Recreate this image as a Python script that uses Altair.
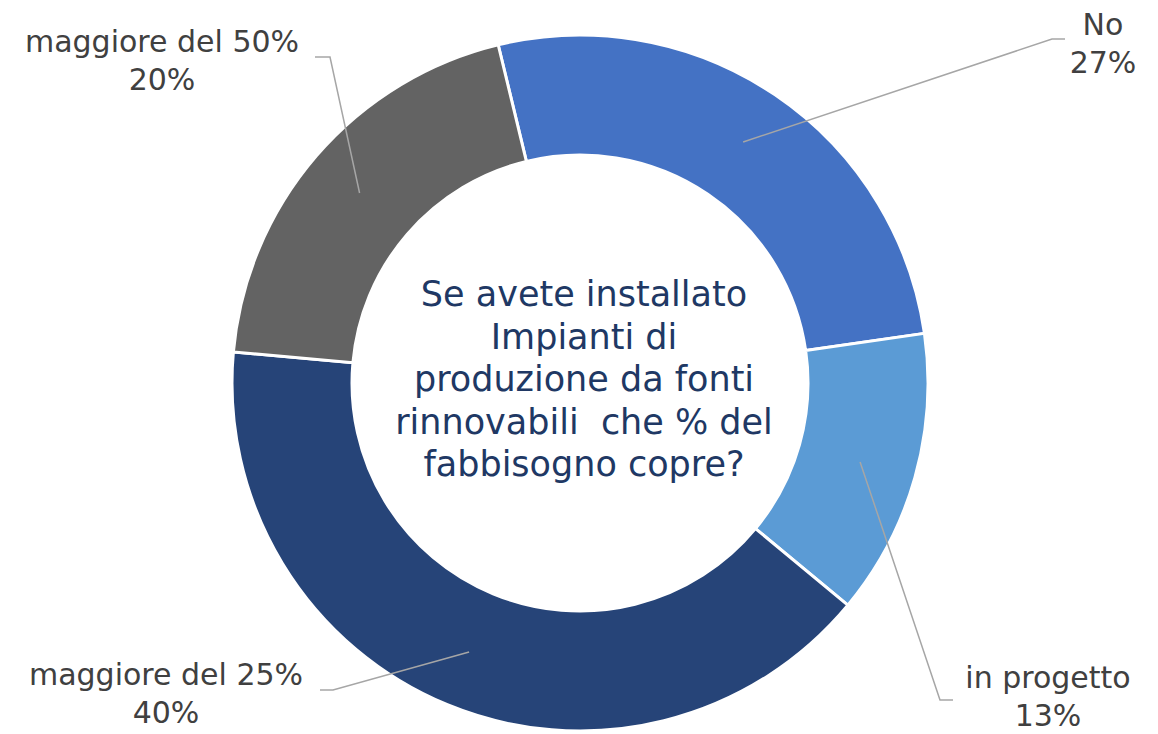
import math
import altair as alt
import pandas as pd

# ---- data ----
categories = ["No", "in progetto", "maggiore del 25%", "maggiore del 50%"]
values = [26.5, 13.3, 40.4, 19.8]
pct_labels = ["27%", "13%", "40%", "20%"]
colors = ["#4472C4", "#5B9BD5", "#264478", "#636363"]
center_title = ["Se avete installato", "Impianti di", "produzione da fonti",
                "rinnovabili\u00a0 che % del", "fabbisogno copre?"]

# ---- layout (pixel offsets from the donut centre, y pointing up) ----
W, H = 1130, 718
CX, CY = 572, 375
R_OUT, R_IN = 348, 228
START_DEG = -13.6
label_pos = [(523, 348), (468, -305), (-414, -302), (-418, 331)]   # first-line baselines
elbow = [(472, 344), (360, -317), (-247, -307), (-250, 326)]
elbow_end = [(485, 344), (373, -317), (-260, -307), (-265, 326)]

FONT = "DejaVu Sans"

slices = pd.DataFrame({"cat": categories, "val": values, "idx": range(len(values))})

# leader lines: start at the slice mid-angle, mid-ring radius
total = sum(values)
rows = []
cum = 0.0
r_mid = (R_OUT + R_IN) / 2 + 3
for i, v in enumerate(values):
    mid = START_DEG + (cum + v / 2) / total * 360
    cum += v
    a = math.radians(mid)
    sx, sy = r_mid * math.sin(a), r_mid * math.cos(a)
    pts = [(sx, sy), elbow[i], elbow_end[i]]
    for k, (px, py) in enumerate(pts):
        rows.append({"cat": categories[i], "k": k, "x": px, "y": py})
lines = pd.DataFrame(rows)

labels = pd.DataFrame({
    "x": [p[0] for p in label_pos],
    "y": [p[1] for p in label_pos],
    "t": [c + "\n" + p for c, p in zip(categories, pct_labels)],
})
center = pd.DataFrame({"x": [4], "y": [77], "t": ["\n".join(center_title)]})

xs = alt.Scale(domain=[-CX, W - CX], nice=False, zero=False)
ys = alt.Scale(domain=[CY - H, CY], nice=False, zero=False)

start = math.radians(START_DEG)
arcs = alt.Chart(slices).mark_arc(
    outerRadius=R_OUT, innerRadius=R_IN, stroke="white", strokeWidth=3
).encode(
    theta=alt.Theta("val:Q", stack=True, scale=alt.Scale(range=[start, start + 2 * math.pi])),
    color=alt.Color("cat:N", scale=alt.Scale(domain=categories, range=colors), legend=None),
    order=alt.Order("idx:Q"),
    x=alt.X(datum=0, type="quantitative", scale=xs, axis=None),
    y=alt.Y(datum=0, type="quantitative", scale=ys, axis=None),
)

leaders = alt.Chart(lines).mark_line(color="#A6A6A6", strokeWidth=1.5).encode(
    x=alt.X("x:Q", scale=xs, axis=None),
    y=alt.Y("y:Q", scale=ys, axis=None),
    detail="cat:N",
    order="k:Q",
)

label_text = alt.Chart(labels).mark_text(
    font=FONT, fontSize=30, color="#404040", lineBreak="\n", lineHeight=38,
    align="center", baseline="alphabetic"
).encode(
    x=alt.X("x:Q", scale=xs, axis=None),
    y=alt.Y("y:Q", scale=ys, axis=None),
    text="t:N",
)

center_text = alt.Chart(center).mark_text(
    font=FONT, fontSize=35, color="#203864", lineBreak="\n", lineHeight=42.5,
    align="center", baseline="alphabetic"
).encode(
    x=alt.X("x:Q", scale=xs, axis=None),
    y=alt.Y("y:Q", scale=ys, axis=None),
    text="t:N",
)

chart = alt.layer(arcs, leaders, label_text, center_text).properties(
    width=W, height=H, padding=0
).configure_view(stroke=None)

chart.save("out.html", embed_options={"renderer": "svg", "actions": False})
